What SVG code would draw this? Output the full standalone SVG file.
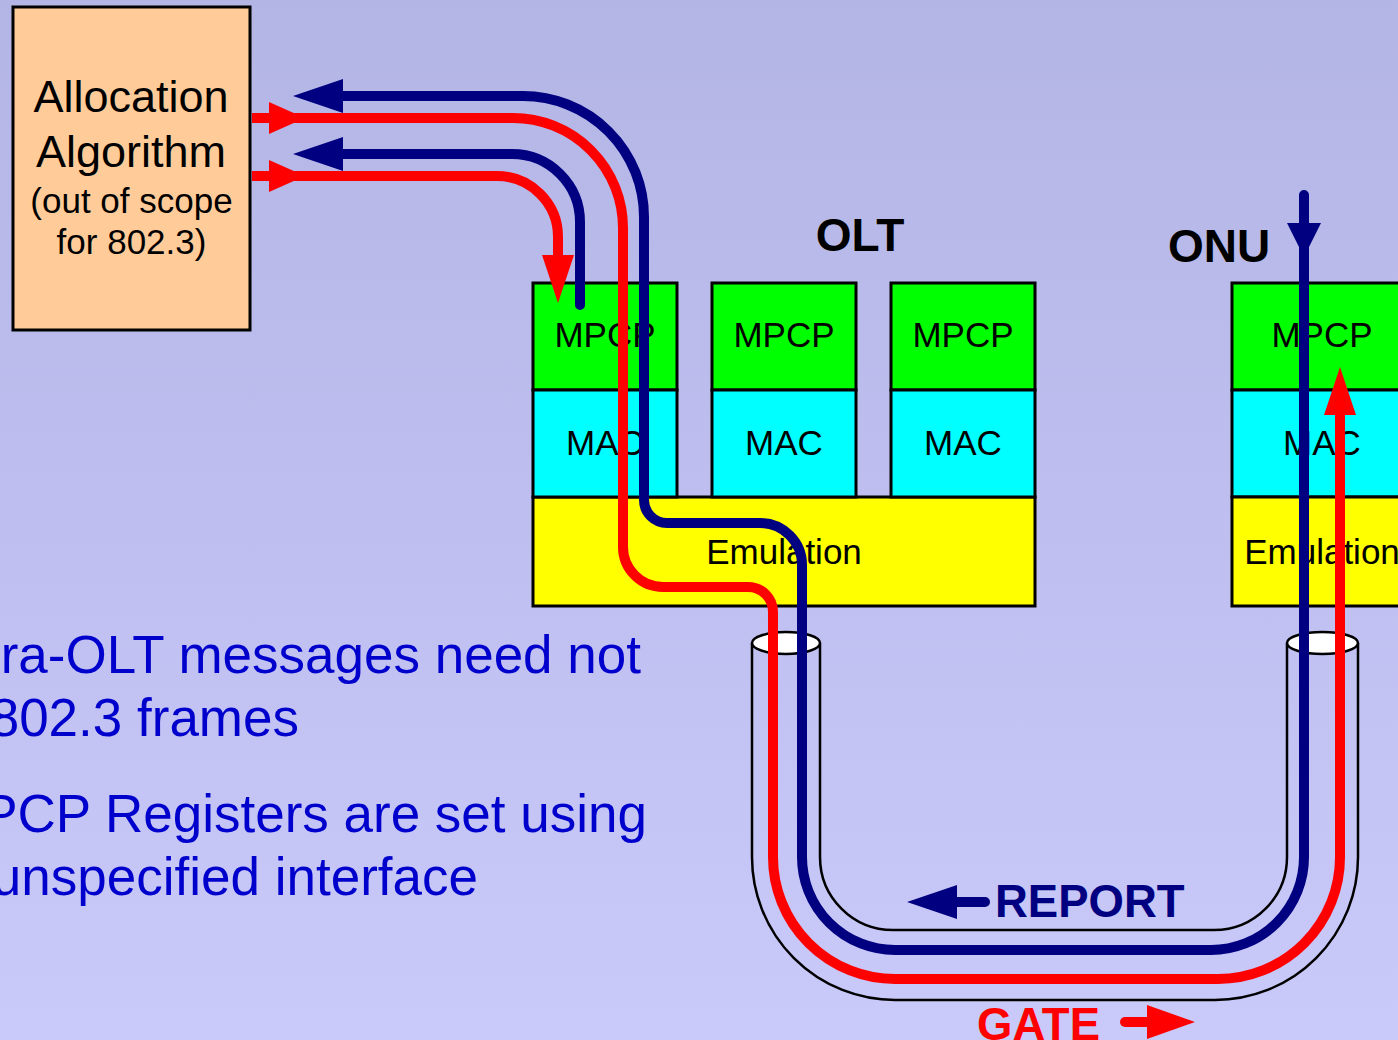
<svg xmlns="http://www.w3.org/2000/svg" width="1398" height="1040" viewBox="0 0 1398 1040">
<defs>
<linearGradient id="bg" x1="0" y1="0" x2="0" y2="1">
<stop offset="0" stop-color="#B3B5E5"/>
<stop offset="1" stop-color="#C9C9FA"/>
</linearGradient>
<style>
.box{stroke:#000;stroke-width:3}
.mpcp{fill:#00FF00}
.mac{fill:#00FFFF}
.emu{fill:#FFFF00}
.lbl{font-family:"Liberation Sans",Arial,sans-serif;font-size:35px;fill:#000;text-anchor:middle}
.big{font-family:"Liberation Sans",Arial,sans-serif;font-size:46px;font-weight:bold}
.note{font-family:"Liberation Sans",Arial,sans-serif;font-size:53px;fill:#0000CC;text-anchor:end}
.tube{fill:none;stroke:#000;stroke-width:2.5}
.nv{fill:none;stroke:#000080;stroke-width:10;stroke-linecap:round;stroke-linejoin:round}
.rd{fill:none;stroke:#FF0000;stroke-width:10;stroke-linecap:butt;stroke-linejoin:round}
.nvh{fill:#000080}
.rdh{fill:#FF0000}
</style>
</defs>
<rect x="0" y="0" width="1398" height="1040" fill="url(#bg)"/>

<g id="notes">
<text class="note" x="641" y="673">ra-OLT messages need not</text>
<text class="note" x="299" y="736">802.3 frames</text>
<text class="note" x="647" y="832">PCP Registers are set using</text>
<text class="note" x="478" y="895">unspecified interface</text>
</g>

<g id="allocation">
<rect x="13" y="7" width="237" height="323" fill="#FFCC99" stroke="#000" stroke-width="3"/>
<text class="lbl" x="131" y="112" style="font-size:45px">Allocation</text>
<text class="lbl" x="131" y="167" style="font-size:45px">Algorithm</text>
<text class="lbl" x="131.5" y="213">(out of scope</text>
<text class="lbl" x="131.5" y="254">for 802.3)</text>
</g>

<g id="olt">
<text class="big" x="860" y="251" text-anchor="middle">OLT</text>
<rect class="box emu" x="533" y="497" width="502" height="109"/>
<g id="olt-stack1">
<rect class="box mpcp" x="533" y="283" width="144" height="107"/>
<rect class="box mac" x="533" y="390" width="144" height="107"/>
<text class="lbl" x="605" y="347">MPCP</text>
<text class="lbl" x="605" y="455">MAC</text>
</g>
<g id="olt-stack2">
<rect class="box mpcp" x="712" y="283" width="144" height="107"/>
<rect class="box mac" x="712" y="390" width="144" height="107"/>
<text class="lbl" x="784" y="347">MPCP</text>
<text class="lbl" x="784" y="455">MAC</text>
</g>
<g id="olt-stack3">
<rect class="box mpcp" x="891" y="283" width="144" height="107"/>
<rect class="box mac" x="891" y="390" width="144" height="107"/>
<text class="lbl" x="963" y="347">MPCP</text>
<text class="lbl" x="963" y="455">MAC</text>
</g>
<text class="lbl" x="784" y="564">Emulation</text>
</g>

<g id="onu">
<text class="big" x="1168" y="262">ONU</text>
<rect class="box mpcp" x="1232" y="283" width="190" height="107"/>
<rect class="box mac" x="1232" y="390" width="190" height="107"/>
<rect class="box emu" x="1232" y="497" width="190" height="109"/>
<text class="lbl" x="1322" y="347">MPCP</text>
<text class="lbl" x="1322" y="455">MAC</text>
<text class="lbl" x="1322" y="564">Emulation</text>
</g>

<g id="tube">
<path class="tube" d="M752,643 V857 A143,143 0 0 0 895,1000 H1215 A143,143 0 0 0 1358,857 V643"/>
<path class="tube" d="M820,643 V857 A73,73 0 0 0 893,930 H1214 A73,73 0 0 0 1287,857 V643"/>
<ellipse cx="786" cy="643" rx="34" ry="11" fill="#fff" stroke="#000" stroke-width="2.5"/>
<ellipse cx="1322.5" cy="643" rx="35.5" ry="11" fill="#fff" stroke="#000" stroke-width="2.5"/>
</g>

<g id="connectors">
<path class="nv" d="M330,96 H523 A121,121 0 0 1 644,217 V500 A23,23 0 0 0 667,523 H760 A42,42 0 0 1 802,565 V857 A93,93 0 0 0 895,950 H1211 A93,93 0 0 0 1304,857 V195"/>
<polygon class="nvh" points="293,96 343,79 343,113"/>
<polygon class="nvh" points="1304,257 1287,223 1321,223"/>
<path class="nv" d="M330,154 H512 A68,68 0 0 1 580,222 V305"/>
<polygon class="nvh" points="293,154 343,137 343,171"/>
<path class="rd" d="M252,118 H513 A110,110 0 0 1 623,228 V547 A40,40 0 0 0 663,587 H748 A25,25 0 0 1 773,612 V857 A122,122 0 0 0 895,979 H1218 A122,122 0 0 0 1340,857 V410"/>
<polygon class="rdh" points="305,118 269,102 269,134"/>
<polygon class="rdh" points="1340,367 1324,415 1356,415"/>
<path class="rd" d="M252,176 H497 A61,61 0 0 1 558,237 V260"/>
<polygon class="rdh" points="305,176 269,160 269,192"/>
<polygon class="rdh" points="558,303 542,255 574,255"/>
</g>

<g id="report">
<line x1="950" y1="902" x2="985" y2="902" stroke="#000080" stroke-width="10" stroke-linecap="round"/>
<polygon class="nvh" points="907,902 957,885 957,919"/>
<text class="big" x="995" y="917" fill="#000080" style="font-size:45.5px">REPORT</text>
</g>

<g id="gate">
<text class="big" x="977" y="1040" fill="#FF0000" style="font-size:45.5px">GATE</text>
<line x1="1125" y1="1022" x2="1152" y2="1022" stroke="#FF0000" stroke-width="10" stroke-linecap="round"/>
<polygon class="rdh" points="1195,1022 1147,1005 1147,1039"/>
</g>
</svg>
